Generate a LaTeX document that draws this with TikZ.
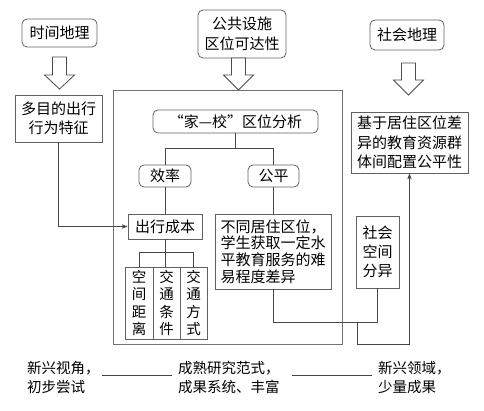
\documentclass[tikz,border=0pt]{standalone}
\usepackage{fontspec}
\setmainfont{Noto Sans CJK SC}
\usetikzlibrary{arrows.meta}
\begin{document}
\begin{tikzpicture}[x=1pt,y=-1pt,
 base/.style={draw=black!62, line width=0.8pt, inner sep=0pt, align=center, font=\fontsize{15}{19.5}\selectfont},
 rbox/.style={base, rounded corners=5pt},
 sbox/.style={base},
 vbox/.style={base, font=\fontsize{14.5}{17.5}\selectfont},
 conn/.style={draw=black!72, line width=0.7pt},
 hollow/.style={draw=black!70, line width=0.8pt, fill=white},
 lbl/.style={inner sep=2pt, align=left, font=\fontsize{14.5}{19}\selectfont},
 harrow/.pic={\draw[hollow] (-7,0) -- (-7,#1) -- (-15,#1) -- (0,32) -- (15,#1) -- (7,#1) -- (7,0) -- cycle;}
]
\useasboundingbox (0,0) rectangle (484,411);
% big frame
\node[draw=black!55, line width=0.8pt, minimum width=229, minimum height=254, inner sep=0pt] (big) at (227.5,217) {};
% top boxes
\node[rbox, minimum width=75, minimum height=28] (sj) at (59.5,33) {时间地理};
\node[rbox, minimum width=88, minimum height=48] (gg) at (242,34) {公共设施\\区位可达性};
\node[rbox, minimum width=74, minimum height=30] (sh) at (407,35) {社会地理};
% hollow arrows
\pic at (59.5,57) {harrow=18};
\pic at (238.5,58) {harrow=17};
\pic at (408.5,63) {harrow=17};
% boxes
\node[sbox, minimum width=87, minimum height=47] (dm) at (58.5,118.5) {多目的出行\\行为特征};
\node[rbox, minimum width=165, minimum height=23] (jx) at (235.5,121.5) {“家—校”区位分析};
\node[rbox, minimum width=52, minimum height=22] (xl) at (165,176) {效率};
\node[rbox, minimum width=51, minimum height=22] (gp) at (273.5,176) {公平};
\node[sbox, minimum width=74, minimum height=25] (cx) at (165,226.5) {出行成本};
\node[vbox, minimum width=28, minimum height=72] (k1) at (139,303) {空\\间\\距\\离};
\node[vbox, minimum width=27, minimum height=72] (k2) at (166.5,303) {交\\通\\条\\件};
\node[vbox, minimum width=27, minimum height=72] (k3) at (193.5,303) {交\\通\\方\\式};
\node[sbox, minimum width=116, minimum height=75, align=left, font=\fontsize{15}{16.8}\selectfont] (bt) at (273,251.5) {不同居住区位，\\学生获取一定水\\平教育服务的难\\易程度差异};
\node[vbox, minimum width=43, minimum height=72, font=\fontsize{15}{19}\selectfont] (sk) at (377.5,252) {社会\\空间\\分异};
\node[sbox, minimum width=117, minimum height=61] (jy) at (409.5,142.5) {基于居住区位差\\异的教育资源群\\体间配置公平性};
% connectors
\draw[conn,-{Stealth[length=6pt,width=4.5pt]}] (dm.south) |- (cx.west);
\draw[conn] (jx.south) -- ++(0,15) coordinate (j1);
\draw[conn] (xl.north) |- (j1) -| (gp.north);
\draw[conn] (xl.south) -- (cx.north);
\draw[conn] (cx.south) -- ++(0,13) coordinate (j2);
\draw[conn] (k1.north) |- (j2) -| (k3.north);
\draw[conn] (j2) -- (j2 |- k2.north);
\draw[conn] (gp.south) -- (gp.south |- bt.north);
\draw[conn] (bt.south) -- ++(0,33) coordinate (j3) -| (sk.south);
\coordinate (j4) at (357,322);
\coordinate (j5) at (357,344);
\draw[conn,-{Stealth[length=6pt,width=4.5pt]}] (j4) -- (j5) -| (jy.south);
% bottom labels
\node[lbl, anchor=west] (t1) at (25,377.5) {新兴视角，\\初步尝试};
\node[lbl, anchor=west] (t2) at (176,377.5) {成熟研究范式，\\成果系统、丰富};
\node[lbl, anchor=west] (t3) at (376,377.5) {新兴领域，\\少量成果};
\draw[conn] ([yshift=2]t1.east) -- ([xshift=-4,yshift=2]t2.west);
\draw[conn] ([xshift=10,yshift=2]t2.east) -- ([xshift=-4,yshift=2]t3.west);
\end{tikzpicture}
\end{document}
